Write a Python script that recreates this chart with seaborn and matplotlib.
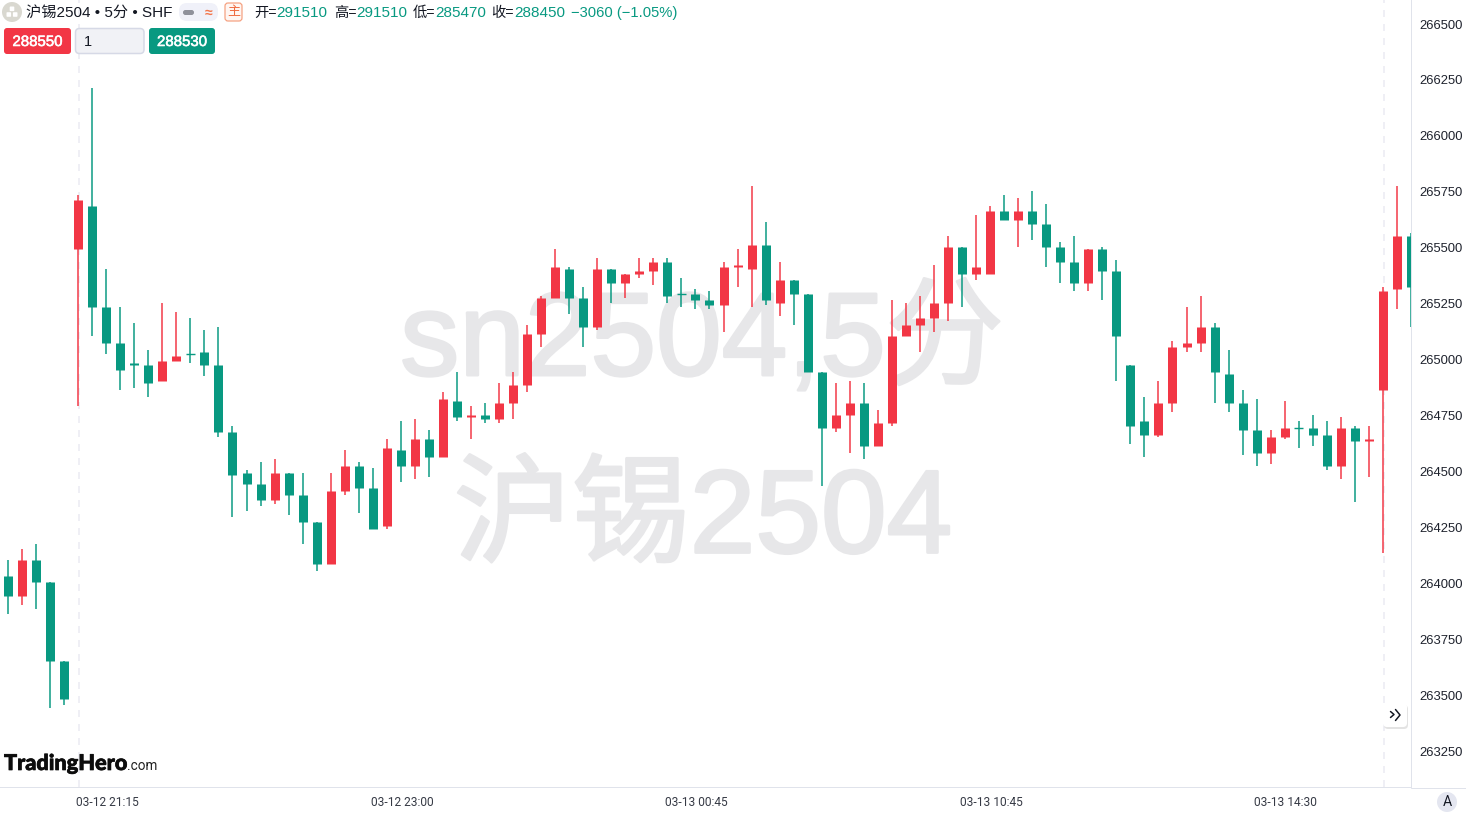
import matplotlib
matplotlib.use("Agg")
import matplotlib.patheffects as pe
import matplotlib.pyplot as plt
from matplotlib.patches import Circle, FancyBboxPatch
from matplotlib.transforms import ScaledTranslation
import pandas as pd
import seaborn as sns

# 5 minute bars. red = close above open
opens = [264030, 263940, 264100, 264000, 263650, 265490, 265680, 265230, 265070, 264980,
         264970, 264900, 264990, 265020, 265030, 264970, 264670, 264490, 264440, 264370,
         264490, 264390, 264270, 264080, 264410, 264520, 264420, 264250, 264590, 264520,
         264640, 264560, 264810, 264740, 264750, 264730, 264800, 264880, 265110, 265270,
         265400, 265270, 265140, 265400, 265340, 265380, 265390, 265430, 265290, 265290,
         265260, 265240, 265410, 265400, 265510, 265250, 265350, 265290, 264940, 264690,
         264750, 264800, 264610, 264710, 265100, 265150, 265180, 265250, 265500, 265380,
         265380, 265660, 265620, 265660, 265600, 265500, 265430, 265340, 265490, 265390,
         264970, 264720, 264660, 264800, 265050, 265070, 265140, 264930, 264800, 264680,
         264580, 264650, 264690, 264690, 264660, 264520, 264690, 264630, 264860, 265310,
         265550]
highs = [264100, 264150, 264170, 264000, 263650, 265730, 266210, 265400, 265230, 265160,
         265040, 265250, 265210, 265180, 265130, 265140, 264700, 264500, 264540, 264550,
         264490, 264490, 264270, 264490, 264590, 264540, 264510, 264640, 264720, 264730,
         264680, 264850, 264940, 264790, 264800, 264890, 264940, 265150, 265280, 265490,
         265410, 265320, 265450, 265400, 265380, 265450, 265450, 265450, 265360, 265310,
         265300, 265430, 265490, 265770, 265610, 265430, 265350, 265290, 264940, 264890,
         264900, 264890, 264770, 265260, 265250, 265280, 265420, 265550, 265500, 265640,
         265680, 265730, 265720, 265750, 265690, 265520, 265550, 265490, 265500, 265440,
         264970, 264830, 264900, 265080, 265230, 265280, 265160, 265040, 264860, 264820,
         264680, 264810, 264720, 264750, 264720, 264740, 264700, 264700, 265320, 265770,
         265560]
lows = [263860, 263900, 263880, 263440, 263450, 264790, 265100, 265020, 264860, 264870,
        264830, 264900, 264990, 264980, 264920, 264650, 264290, 264320, 264340, 264350,
        264300, 264170, 264050, 264080, 264390, 264310, 264240, 264240, 264450, 264460,
        264470, 264560, 264720, 264640, 264710, 264710, 264730, 264850, 265050, 265270,
        265200, 265050, 265130, 265250, 265270, 265360, 265330, 265250, 265230, 265220,
        265220, 265120, 265320, 265230, 265240, 265190, 265150, 264940, 264430, 264670,
        264580, 264550, 264610, 264700, 265100, 265030, 265120, 265170, 265230, 265350,
        265380, 265620, 265500, 265530, 265410, 265340, 265300, 265300, 265260, 264900,
        264620, 264560, 264650, 264760, 265030, 265030, 264800, 264760, 264570, 264520,
        264530, 264640, 264600, 264610, 264500, 264460, 264360, 264470, 264130, 265220,
        265140]
closes = [263940, 264100, 264000, 263650, 263480, 265710, 265230, 265070, 264950, 264970,
          264890, 264990, 265010, 265020, 264970, 264670, 264480, 264440, 264370, 264490,
          264390, 264270, 264080, 264410, 264520, 264420, 264240, 264600, 264520, 264640,
          264560, 264820, 264740, 264750, 264730, 264800, 264880, 265110, 265270, 265410,
          265270, 265140, 265400, 265340, 265380, 265390, 265430, 265280, 265290, 265260,
          265240, 265410, 265420, 265510, 265260, 265350, 265290, 264940, 264690, 264750,
          264800, 264610, 264710, 265100, 265150, 265180, 265250, 265500, 265380, 265410,
          265660, 265620, 265660, 265600, 265500, 265430, 265340, 265490, 265390, 265100,
          264700, 264660, 264800, 265050, 265070, 265140, 264940, 264800, 264680, 264580,
          264650, 264690, 264690, 264660, 264520, 264690, 264630, 264640, 265300, 265550,
          265320]

price_ticks = [263250, 263500, 263750, 264000, 264250, 264500, 264750, 265000, 265250,
               265500, 265750, 266000, 266250, 266500]
time_ticks = [7, 28, 49, 70, 91]
time_labels = ["03-12 21:15", "03-12 23:00", "03-13 00:45", "03-13 10:45", "03-13 14:30"]
session_breaks = [5.06, 98.07]

UP = "#F23645"
DOWN = "#089981"
TEXT = "#131722"
BORDER = "#E0E3EB"
CJK = ["Liberation Sans", "Noto Sans CJK SC", "DejaVu Sans"]
W, H = 1466, 813
PX = 72 / 100  # points per pixel at dpi 100

sns.set_theme(style="white")
plt.rcParams["font.family"] = CJK

bars = pd.DataFrame({"bar": range(len(opens)), "open": opens, "high": highs,
                     "low": lows, "close": closes})
bars["side"] = ["up" if c > o else "down" for o, c in zip(opens, closes)]
wicks = bars.melt(id_vars=["bar", "side"], value_vars=["high", "low"], value_name="price")
bodies = bars.melt(id_vars=["bar", "side"], value_vars=["open", "close"], value_name="price")
flat = bars[bars["open"] == bars["close"]]
palette = {"up": UP, "down": DOWN}

fig = plt.figure(figsize=(W / 100, H / 100), dpi=100, facecolor="white")

# pixel space layers, one under the candles for the watermark, one over them for the toolbar
back = fig.add_axes([0, 0, 1, 1], zorder=0)
front = fig.add_axes([0, 0, 1, 1], zorder=2)
for layer in (back, front):
    layer.set_xlim(0, W)
    layer.set_ylim(H, 0)
    layer.axis("off")

ax = fig.add_axes([0, (H - 787) / H, 1411 / W, 787 / H], zorder=1)
ax.patch.set_alpha(0)

for b in session_breaks:
    ax.axvline(b, color="#EFEFF5", lw=2 * PX, dashes=(3.5, 3.5), zorder=0)

sns.lineplot(data=wicks, x="bar", y="price", units="bar", hue="side", palette=palette,
             estimator=None, sort=False, legend=False, linewidth=1.5 * PX, ax=ax,
             solid_capstyle="butt", zorder=2)
sns.lineplot(data=bodies, x="bar", y="price", units="bar", hue="side", palette=palette,
             estimator=None, sort=False, legend=False, linewidth=9 * PX, ax=ax,
             solid_capstyle="butt", zorder=3)
# open == close bars have no height, these are just a tick across the wick
sns.scatterplot(data=flat, x="bar", y="open", hue="side", palette=palette, marker="_",
                s=(9 * PX) ** 2, linewidth=1.4 * PX, legend=False, ax=ax, zorder=3)

ax.set_xlim(-0.57, 100.0)
ax.set_ylim(263085, 266603)
ax.set_xlabel("")
ax.set_ylabel("")
ax.yaxis.tick_right()
ax.set_yticks(price_ticks)
ax.set_yticklabels([str(p) for p in price_ticks], fontsize=13 * PX, color="#1E222D",
                   family="Liberation Sans")
ax.set_xticks(time_ticks)
ax.set_xticklabels(time_labels, fontsize=12 * PX, color="#363A45", family="Roboto")
ax.tick_params(axis="y", length=0, pad=5.7)
ax.tick_params(axis="x", length=0, pad=6.8)
ax.grid(False)
sns.despine(ax=ax, top=True, left=True, right=False, bottom=False)
for side in ("right", "bottom"):
    ax.spines[side].set_color(BORDER)
    ax.spines[side].set_linewidth(1 * PX)
# nudge the tick labels by one pixel
for tl in ax.get_yticklabels():
    tl.set_transform(tl.get_transform() + ScaledTranslation(0, -1 / 100, fig.dpi_scale_trans))
for tl in ax.get_xticklabels():
    tl.set_transform(tl.get_transform() + ScaledTranslation(1 / 100, 0, fig.dpi_scale_trans))
# the bottom rule carries on under the price scale
front.plot([1411, W], [787.5, 787.5], color=BORDER, lw=1 * PX)

# watermark, the source face is heavier than Liberation regular
heavy = [pe.withStroke(linewidth=2.0, foreground="#E7E7E9")]
for text, x, y in [("sn2504,5分", 702, 344), ("沪锡2504", 703, 522)]:
    back.text(x, y, text, fontsize=118 * PX, color="#E7E7E9", ha="center", va="center",
              family=CJK, path_effects=heavy)


def rounded(x0, y0, x1, y1, fc, ec="none", lw=0.0, r=3.0, **kws):
    box = FancyBboxPatch((x0 + r, y0 + r), x1 - x0 - 2 * r, y1 - y0 - 2 * r,
                         boxstyle=f"round,pad={r},rounding_size={r}", fc=fc, ec=ec,
                         lw=lw * PX, **kws)
    front.add_patch(box)


def label(x, y, s, color=TEXT, size=14.5, ha="left", **kws):
    kws.setdefault("family", CJK)
    front.text(x, y, s, color=color, fontsize=size * PX, ha=ha, va="center", **kws)


# header, symbol
front.add_patch(Circle((12, 12), 10, fc="#D9D8D0", ec="none"))
for cx, cy in [(12, 8.8), (8.8, 14.5), (15.2, 14.5)]:
    front.add_patch(FancyBboxPatch((cx - 2.3, cy - 2.3), 4.6, 4.6, fc="white", ec="none",
                                   boxstyle="round,pad=0,rounding_size=0.8"))
label(26, 13.5, "沪锡2504 • 5分 • SHF", size=15.2)
rounded(179, 3, 218, 21, "#F0F1F9", r=8)
rounded(183, 10, 194, 15, "#8F919B", r=2.4)
label(208.5, 12.5, "≈", color="#F3764A", size=14, ha="center", weight="bold")
rounded(225, 3, 242, 21, "#FFF6F2", ec="#F59F7E", lw=1.2, r=3)
label(233.5, 12.5, "主", color="#EF6A3E", size=13, ha="center")

# header, quote
for x, s in [(254, "开="), (334, "高="), (413, "低="), (491, "收=")]:
    label(x, 13, s, size=14.3)
for x, s in [(276.5, "291510"), (356, "291510"), (435, "285470"), (514, "288450")]:
    label(x, 13, s, color=DOWN, size=15.3)
label(571, 13, "−3060 (−1.05%)", color=DOWN, size=14.8)

# order buttons
medium = [pe.withStroke(linewidth=0.4, foreground="white")]
rounded(4, 28, 71, 54, UP, r=3)
label(37.5, 42, "288550", color="white", size=15, ha="center", path_effects=medium)
rounded(75.5, 28.5, 144, 53.5, "#F1F2F6", ec="#D6D9E6", lw=1.5, r=4)
label(84, 42, "1", size=14.5)
rounded(149, 28, 215, 54, DOWN, r=3)
label(182, 42, "288530", color="white", size=15, ha="center", path_effects=medium)

# logo
label(4, 763.5, "TradingHero", color="#0C0C0C", size=21.7, weight="black", family="Lato",
      path_effects=[pe.withStroke(linewidth=0.5, foreground="#0C0C0C")])
label(127, 766, ".com", color="#222222", size=13.5, family="Roboto")

# scroll to latest button
rounded(1384, 705, 1408, 729, "#D8D8D8", r=4, alpha=0.7)
rounded(1383, 703, 1407, 727, "white", r=4)
front.plot([1390.5, 1394, 1390.5], [711.5, 714.5, 717.5], color="#131722", lw=1.5 * PX,
           solid_capstyle="round")
front.plot([1395.5, 1400, 1395.5], [709.5, 715, 720.5], color="#131722", lw=1.5 * PX,
           solid_capstyle="round")

# auto scale badge
front.add_patch(Circle((1447, 802), 10, fc="#E4E6F0", ec="none"))
label(1447, 802, "A", color="#131722", size=14, ha="center", family="Roboto")

fig.savefig("out.png", dpi=100)
